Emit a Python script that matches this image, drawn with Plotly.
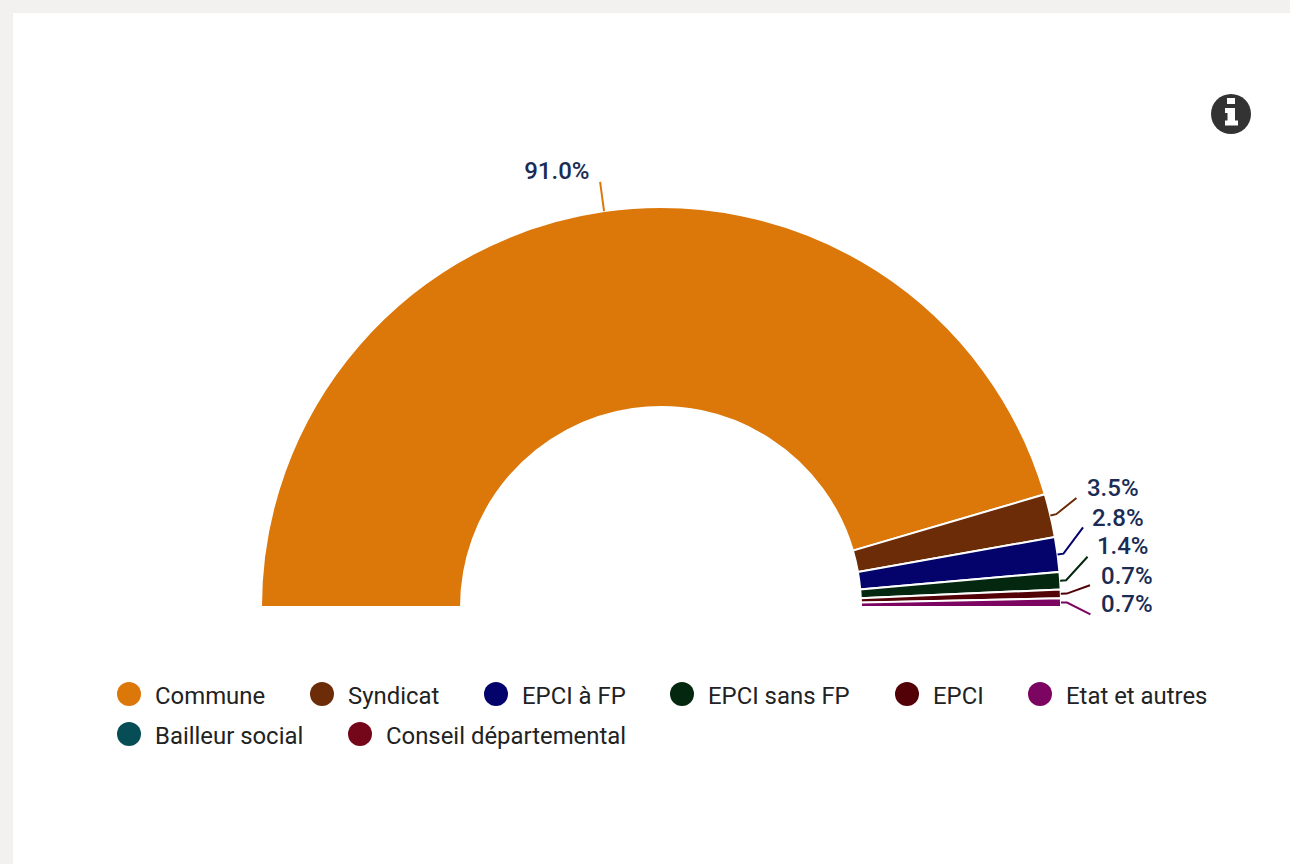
import numpy as np
import plotly.graph_objects as go

categories = ["Commune", "Syndicat", "EPCI à FP", "EPCI sans FP", "EPCI", "Etat et autres",
              "Bailleur social", "Conseil départemental"]
values = [91.0, 3.5, 2.8, 1.4, 0.7, 0.7, 0.0, 0.0]
colors = ["#dc770a", "#6b2c07", "#03036b", "#04270f", "#520207", "#7b0560", "#074d55", "#75071a"]
label_text = ["91.0%", "3.5%", "2.8%", "1.4%", "0.7%", "0.7%"]
# leader-line end angle (deg along the half circle), label anchor radius/angle
leader_end_theta = [81.85, 165.3, 169.31, 173.28, 177.1, 180.97]
label_r = [440.2, 441.7, 439.7, 439.9, 441.0, 440.0]
label_theta = [80.65, 164.65, 168.6, 172.3, 176.24, 179.87]
# legend layout: marker centre x, row centre y (pixels in the page)
legend_x = [129, 322, 496, 682, 907, 1040, 129, 360]
legend_y = [695, 695, 695, 695, 695, 695, 735, 735]

W, H = 1290, 864
CX, CY, R_OUT, R_IN, R_MAX = 661, 607, 400, 200, 500
LEADER_R = 429.5
OVERHANG = 3  # degrees of sector beyond each end, so the last leader is not clipped

vals = np.array(values)
edges = np.concatenate([[0], np.cumsum(vals)]) / vals.sum() * 180
mid = (edges[:-1] + edges[1:]) / 2
width = np.diff(edges)

fig = go.Figure()
fig.add_trace(go.Barpolar(
    r=[R_OUT - R_IN] * len(vals), base=[R_IN] * len(vals), theta=mid, width=width,
    marker=dict(color=colors, line=dict(color="white", width=2)),
    text=categories, hoverinfo="text", showlegend=False, subplot="polar"))

for i, lab in enumerate(label_text):
    fig.add_trace(go.Scatterpolar(
        r=[R_OUT, R_OUT + 6, LEADER_R], theta=[mid[i], mid[i], leader_end_theta[i]],
        mode="lines", line=dict(color=colors[i], width=2), cliponaxis=False,
        hoverinfo="skip", showlegend=False, subplot="polar"))
fig.add_trace(go.Scatterpolar(
    r=label_r, theta=label_theta, text=label_text, mode="text",
    textposition=["middle left"] + ["middle right"] * 5,
    textfont=dict(family="Roboto", size=24, color="#1a2c54", weight=500),
    cliponaxis=False, hoverinfo="skip", showlegend=False, subplot="polar"))

legends = {}
shapes = [
    dict(type="rect", xref="paper", yref="paper", x0=13 / W, x1=1, y0=0, y1=1 - 13 / H,
         fillcolor="white", line_width=0, layer="below"),
    dict(type="circle", xref="paper", yref="paper", x0=1211 / W, x1=1251 / W,
         y0=1 - 134 / H, y1=1 - 94 / H, fillcolor="#333333", line_width=0),
]
# the slab "i" of the info icon: x0, x1, y0, y1 in page pixels
for x0, x1, y0, y1 in [(1227, 1235, 98, 104), (1225, 1235, 108, 113),
                       (1227.5, 1235, 108, 125), (1225, 1238, 120.5, 125.5)]:
    shapes.append(dict(type="rect", xref="paper", yref="paper", x0=x0 / W, x1=x1 / W,
                       y0=1 - y1 / H, y1=1 - y0 / H, fillcolor="white", line_width=0))

for i, (name, col) in enumerate(zip(categories, colors)):
    key = "legend" if i == 0 else f"legend{i + 1}"
    fig.add_trace(go.Scatterpolar(
        r=[None], theta=[None], name=name, mode="markers", legend=key,
        marker=dict(color=col, size=16, symbol="circle", line=dict(color=col, width=5)),
        subplot="polar"))
    legends[key] = dict(
        x=(legend_x[i] - 26) / W, y=1 - legend_y[i] / H, xanchor="left", yanchor="middle",
        itemwidth=42, bgcolor="rgba(0,0,0,0)", borderwidth=0,
        itemclick=False, itemdoubleclick=False,
        font=dict(family="Roboto", size=23.9, color="#222222"))
    # legend swatches stop at 21 px; this disc brings them up to the reference's 24 px
    shapes.append(dict(type="circle", xref="paper", yref="paper",
                       x0=(legend_x[i] - 12) / W, x1=(legend_x[i] + 12) / W,
                       y0=1 - (legend_y[i] - 1 + 12) / H, y1=1 - (legend_y[i] - 1 - 12) / H,
                       fillcolor=col, line_width=0))

sag = R_MAX * np.sin(np.radians(OVERHANG))
fig.update_layout(
    width=W, height=H, margin=dict(l=0, r=0, t=0, b=0), paper_bgcolor="#f2f1ef",
    shapes=shapes,
    polar=dict(
        domain=dict(x=[(CX - R_MAX) / W, (CX + R_MAX) / W],
                    y=[1 - (CY + sag) / H, 1 - (CY - R_MAX) / H]),
        sector=[-OVERHANG, 180 + OVERHANG], bgcolor="rgba(0,0,0,0)",
        radialaxis=dict(visible=False, range=[0, R_MAX]),
        angularaxis=dict(visible=False, direction="clockwise", rotation=180),
    ),
    **legends,
)
fig.write_html("out.html", config=dict(displayModeBar=False),
               post_script="document.body.style.margin='0';")
